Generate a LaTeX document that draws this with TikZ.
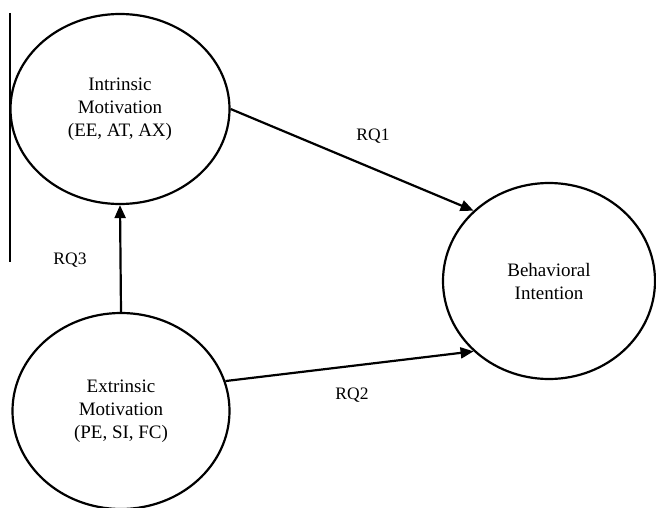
\documentclass[tikz,border=0pt]{standalone}
\usepackage{fontspec}
\setmainfont{Liberation Serif}
\usetikzlibrary{shapes.geometric,arrows.meta}
\begin{document}
\begin{tikzpicture}[x=1pt,y=-1pt,
  construct/.style={ellipse,draw,line width=2.2pt,inner sep=0pt,align=center,
    font=\fontsize{19}{23}\selectfont},
  link/.style={line width=2.2pt,-{Triangle[length=13pt,width=11pt]}},
  rq/.style={font=\fontsize{17.5}{20}\selectfont}]
\useasboundingbox (0,0) rectangle (656,508);
\node[construct,minimum width=219pt,minimum height=190pt] (im) at (120,109)
  {Intrinsic\\Motivation\\(EE, AT, AX)};
\node[construct,minimum width=217pt,minimum height=196pt] (em) at (121,411)
  {Extrinsic\\Motivation\\(PE, SI, FC)};
\node[construct,minimum width=212pt,minimum height=196pt] (bi) at (549,281)
  {Behavioral\\Intention};
\draw[link] (im.east) -- (bi.137);
\draw[link] (em.16) -- (bi.223);
\draw[link] (em.north) -- (im.south);
\node[rq] (rq1) at (373,136) {RQ1};
\node[rq] (rq2) at (352,395) {RQ2};
\node[rq] (rq3) at (70,260) {RQ3};
\coordinate (lt) at (10,13);
\coordinate (lb) at (10,262);
\draw[line width=1.2pt] (lt) -- (lb);
\end{tikzpicture}
\end{document}
